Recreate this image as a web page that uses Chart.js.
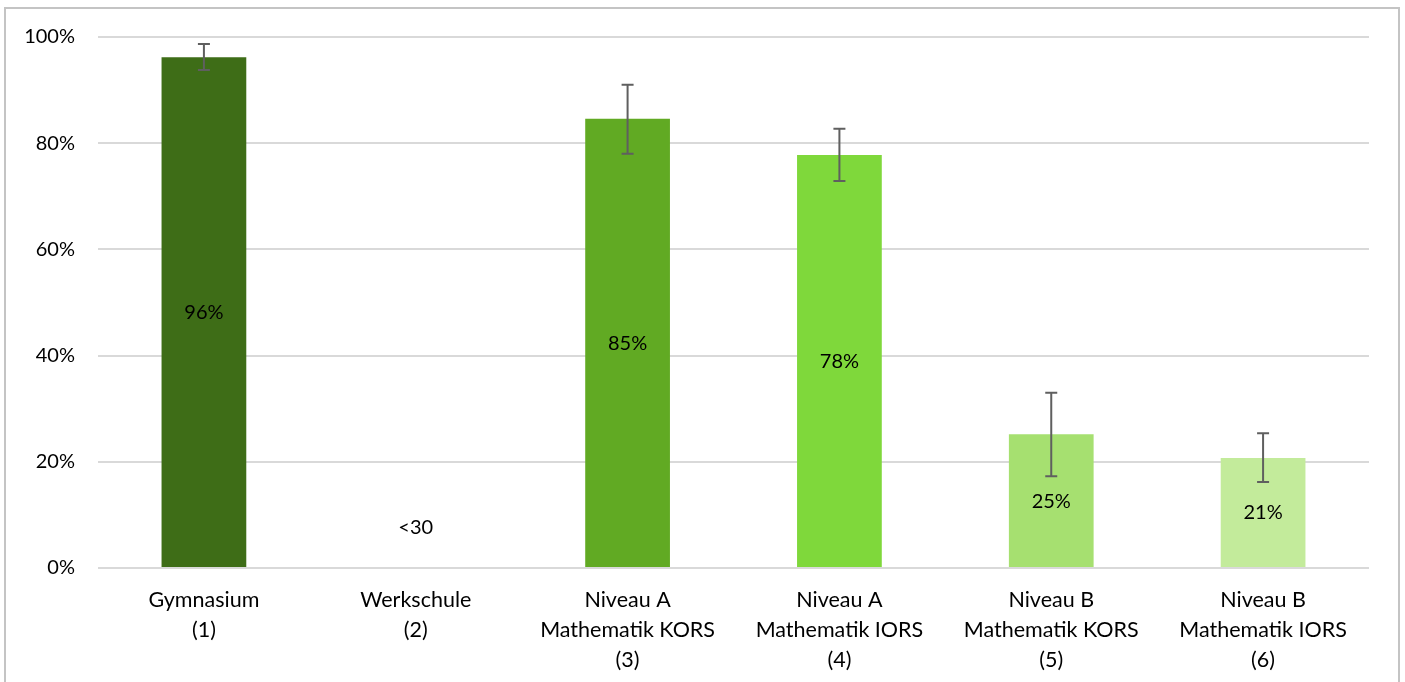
<!DOCTYPE html>
<html>
<head>
<meta charset="utf-8">
<script src="https://cdn.jsdelivr.net/npm/chart.js@4/dist/chart.umd.min.js"></script>
<style>
  html, body { margin: 0; padding: 0; background: #fff; overflow: hidden; }
  #frame {
    position: absolute; left: 4px; top: 7px; width: 1392px; height: 720px;
    border: 2px solid #c4c4c4;
  }
  #wrap { position: absolute; left: 0; top: 0; width: 1405px; height: 682px; }
</style>
</head>
<body>
<div id="frame"></div>
<div id="wrap"><canvas id="chart"></canvas></div>
<script>
// categories (multi-line labels)
const categories = [
    ["Gymnasium", "(1)"],
    ["Werkschule", "(2)"],
    ["Niveau A", "Mathematik KORS", "(3)"],
    ["Niveau A", "Mathematik IORS", "(4)"],
    ["Niveau B", "Mathematik KORS", "(5)"],
    ["Niveau B", "Mathematik IORS", "(6)"]
];
// share in percent, Werkschule not reported (<30 cases)
const values = [96.2, null, 84.6, 77.8, 25.2, 20.7];
const valueLabels = ["96%", "<30", "85%", "78%", "25%", "21%"];
const noteAt = 7.7;  // where the "<30" note sits on the value axis
const errLow = [93.8, null, 78.0, 72.9, 17.3, 16.2];
const errHigh = [98.7, null, 91.0, 82.7, 33.0, 25.4];
const barColors = ["#3e6d17", "#61aa23", "#61aa23", "#7fd83b", "#a6e070", "#c3eb9b"];
const yTicks = [0, 20, 40, 60, 80, 100];

const FONT = "Lato, 'Open Sans', sans-serif";

const errorBars = {
    id: "errorBars",
    afterDatasetsDraw(chart) {
        const ctx = chart.ctx;
        const meta = chart.getDatasetMeta(0);
        const y = chart.scales.y;
        ctx.save();
        ctx.strokeStyle = "#5f5f5f";
        ctx.lineWidth = 2;
        meta.data.forEach((bar, i) => {
            if (errLow[i] == null) return;
            const top = y.getPixelForValue(errHigh[i]);
            const bot = y.getPixelForValue(errLow[i]);
            ctx.beginPath();
            ctx.moveTo(bar.x, top); ctx.lineTo(bar.x, bot);
            ctx.moveTo(bar.x - 6, top); ctx.lineTo(bar.x + 6, top);
            ctx.moveTo(bar.x - 6, bot); ctx.lineTo(bar.x + 6, bot);
            ctx.stroke();
        });
        ctx.restore();
    }
};

const barLabels = {
    id: "barLabels",
    afterDraw(chart) {
        const ctx = chart.ctx;
        const meta = chart.getDatasetMeta(0);
        const y = chart.scales.y;
        ctx.save();
        ctx.font = "20px " + FONT;
        ctx.fillStyle = "#000";
        ctx.textAlign = "center";
        ctx.textBaseline = "middle";
        meta.data.forEach((bar, i) => {
            const v = values[i];
            const cy = v == null ? y.getPixelForValue(noteAt) : (y.getPixelForValue(v) + y.getPixelForValue(0)) / 2;
            ctx.fillText(valueLabels[i], bar.x, cy);
        });
        ctx.restore();
    }
};

new Chart(document.getElementById("chart"), {
    type: "bar",
    data: {
        labels: categories,
        datasets: [{
            data: values,
            backgroundColor: barColors,
            categoryPercentage: 1.0,
            barPercentage: 0.4
        }]
    },
    options: {
        responsive: true,
        maintainAspectRatio: false,
        animation: false,
        layout: { padding: { top: 37, right: 36, left: 0, bottom: 0 } },
        plugins: { legend: { display: false }, tooltip: { enabled: false } },
        scales: {
            x: {
                grid: { display: false, drawTicks: false },
                border: { display: false },
                ticks: {
                    color: "#000",
                    font: { family: FONT, size: 21.5, lineHeight: 1.4 },
                    padding: 17,
                    maxRotation: 0,
                    autoSkip: false
                },
                afterFit(scale) { scale.height = 114; }
            },
            y: {
                min: 0,
                max: 100,
                afterBuildTicks(scale) { scale.ticks = yTicks.map(v => ({ value: v })); },
                grid: { color: "#d9d9d9", lineWidth: 2, drawTicks: false },
                border: { display: false },
                ticks: {
                    color: "#000",
                    font: { family: FONT, size: 20 },
                    padding: 23,
                    callback: v => v + "%"
                },
                afterFit(scale) { scale.width = 98; }
            }
        }
    },
    plugins: [errorBars, barLabels]
});
</script>
</body>
</html>
